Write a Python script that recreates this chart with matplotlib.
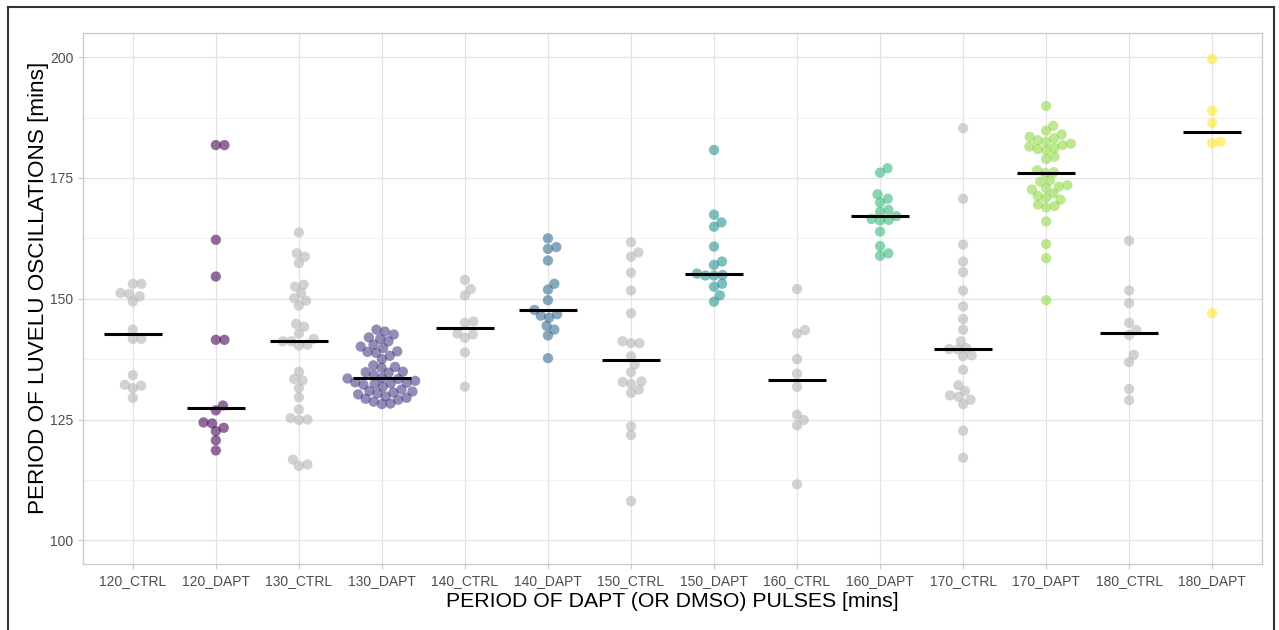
import numpy as np
import matplotlib
matplotlib.use("Agg")
import matplotlib.pyplot as plt
from matplotlib.lines import Line2D

plt.rcParams["font.family"] = ["Liberation Sans", "DejaVu Sans"]

# -----------------------------
# Data: period of LuVeLu oscillations [mins] per condition
# -----------------------------
groups = ["120_CTRL", "120_DAPT", "130_CTRL", "130_DAPT", "140_CTRL", "140_DAPT",
          "150_CTRL", "150_DAPT", "160_CTRL", "160_DAPT", "170_CTRL", "170_DAPT",
          "180_CTRL", "180_DAPT"]

ctrl_120 = [153.1, 153.1, 151.2, 150.5, 151.0, 149.4, 143.6, 141.7, 141.7,
            134.2, 132.2, 131.5, 132.0, 129.5]
dapt_120 = [181.8, 181.8, 162.2, 154.6, 141.5, 141.5, 127.9, 126.9, 124.4,
            124.2, 123.3, 122.6, 120.7, 118.6]

ctrl_130 = [163.7, 158.7, 159.4, 157.4, 152.9, 152.5, 151.2, 149.6, 150.1,
            148.6, 144.8, 144.2, 142.8, 141.7, 141.2, 141.2, 140.5, 140.3,
            134.9, 133.1, 133.4, 131.5, 129.6, 127.1, 124.9, 125.3, 125.0,
            115.7, 115.4, 116.7]
dapt_130 = [143.6, 143.2, 142.6, 142.0, 141.7, 141.2, 140.5, 140.1, 139.8,
            139.1, 139.0, 138.8, 138.2, 137.5, 136.2, 135.9, 135.7, 134.9,
            134.8, 134.7, 134.2, 133.4, 133.6, 133.5, 133.0, 132.7, 132.6,
            132.5, 132.4, 132.2, 131.8, 131.2, 130.9, 130.8, 130.6, 130.4,
            130.2, 129.8, 129.5, 129.3, 129.1, 128.7, 128.3, 128.2]

ctrl_140 = [153.9, 152.0, 150.7, 145.3, 145.0, 142.8, 142.6, 141.9, 138.9, 131.8]
dapt_140 = [162.5, 160.7, 160.3, 157.9, 153.1, 151.9, 149.7, 147.7, 146.8,
            146.5, 146.1, 144.4, 143.6, 142.4, 137.7]

ctrl_150 = [161.7, 159.6, 158.7, 155.4, 151.7, 147.0, 140.8, 141.2, 140.8,
            138.1, 136.4, 134.8, 132.9, 132.4, 132.8, 130.5, 131.2, 123.6,
            121.8, 108.1]
dapt_150 = [180.8, 167.4, 165.8, 164.9, 160.8, 157.7, 157.0, 154.9, 155.2,
            154.8, 154.8, 153.1, 152.5, 150.7, 149.4]

ctrl_160 = [152.0, 142.8, 143.5, 137.5, 134.5, 131.8, 126.0, 124.9, 123.8, 111.6]
dapt_160 = [177.0, 176.1, 171.6, 170.7, 169.9, 168.4, 168.0, 167.1, 166.3,
            166.2, 166.5, 163.9, 160.9, 159.4, 158.9]

ctrl_170 = [185.3, 170.7, 161.2, 157.7, 155.5, 151.7, 148.4, 145.8, 143.6,
            141.2, 139.5, 139.8, 139.6, 138.1, 138.3, 135.3, 132.1, 130.9,
            129.1, 130.0, 129.7, 128.2, 122.7, 117.1]
dapt_170 = [189.9, 185.8, 184.8, 184.0, 183.5, 183.2, 182.8, 182.5, 182.1,
            181.8, 181.5, 181.2, 181.0, 180.7, 179.4, 178.9, 176.6, 176.0,
            176.2, 174.5, 174.2, 173.5, 173.2, 172.9, 172.6, 171.8, 171.3,
            170.9, 170.5, 169.5, 169.2, 168.9, 166.0, 161.3, 158.4, 149.7]

ctrl_180 = [162.0, 151.7, 149.1, 145.0, 143.5, 142.5, 138.4, 136.9, 131.3, 129.0]
dapt_180 = [199.6, 188.9, 186.4, 182.2, 182.5, 147.0]

values = [ctrl_120, dapt_120, ctrl_130, dapt_130, ctrl_140, dapt_140,
          ctrl_150, dapt_150, ctrl_160, dapt_160, ctrl_170, dapt_170,
          ctrl_180, dapt_180]

# viridis(7) for the DAPT conditions, grey for controls
dapt_colors = ["#440154", "#443A83", "#31688E", "#21908C", "#35B779",
               "#8FD744", "#FDE725"]
ctrl_color = "#b3b3b3"

y_ticks = [100, 125, 150, 175, 200]


# -----------------------------
# Helpers
# -----------------------------
def swarm_offsets(ypix, d):
    """Place points along x (pixels) so that no two overlap."""
    order = np.argsort(ypix, kind="stable")
    xs = np.zeros(len(ypix))
    placed = []
    for i in order:
        y = ypix[i]
        near = [(px, py) for px, py in placed if abs(py - y) < d]
        cands = [0.0]
        for px, py in near:
            dx = np.sqrt(d * d - (py - y) ** 2)
            cands += [px + dx, px - dx]
        cands.sort(key=abs)
        for c in cands:
            if all((c - px) ** 2 + (y - py) ** 2 >= d * d - 1e-6 for px, py in near):
                xs[i] = c
                break
        placed.append((xs[i], y))
    return xs


# -----------------------------
# Plot
# -----------------------------
fig = plt.figure(figsize=(12.79, 6.30), dpi=100)
ax = fig.add_axes([83 / 1279, 1 - 564 / 630, (1262 - 83) / 1279, (564 - 33) / 630])

ax.set_xlim(0.4, len(groups) + 0.6)
ax.set_ylim(95.1, 205.0)

# pixel scale of the axes, used for the swarm layout
p0 = ax.transData.transform((0, 0))
p1 = ax.transData.transform((1, 1))
px_per_x = p1[0] - p0[0]
px_per_y = p1[1] - p0[1]

spacing = 8.6
dapt_i = 0
for i, (name, vals) in enumerate(zip(groups, values)):
    pos = i + 1
    vals = np.asarray(vals, dtype=float)
    if name.endswith("DAPT"):
        col = dapt_colors[dapt_i]
        dapt_i += 1
    else:
        col = ctrl_color
    off = swarm_offsets(vals * px_per_y, spacing) / px_per_x
    ax.scatter(pos + off, vals, s=55, color=col, alpha=0.58,
               edgecolors="none", zorder=3)
    med = np.median(vals)
    ax.plot([pos - 0.35, pos + 0.35], [med, med], color="black",
            lw=2.2, solid_capstyle="butt", zorder=4)

# grid + frame
ax.set_xticks(range(1, len(groups) + 1))
ax.set_xticklabels(groups)
ax.set_yticks(y_ticks)
ax.set_yticks([112.5, 137.5, 162.5, 187.5], minor=True)
ax.grid(True, which="major", color="#e3e3e3", lw=0.9)
ax.grid(True, which="minor", axis="y", color="#f0f0f0", lw=0.6)
ax.set_axisbelow(True)
for sp in ax.spines.values():
    sp.set_color("#c8c8c8")
    sp.set_linewidth(0.9)

ax.tick_params(axis="both", which="major", labelsize=10, labelcolor="#4d4d4d",
               color="#c8c8c8", length=3.5, width=0.8)
ax.tick_params(axis="y", which="minor", length=0)

ax.set_xlabel("PERIOD OF DAPT (OR DMSO) PULSES [mins]", fontsize=15.3, labelpad=3)
ax.set_ylabel("PERIOD OF LUVELU OSCILLATIONS [mins]", fontsize=16.2,
              va="center")
ax.yaxis.set_label_coords(-0.038, 0.52)

# outer border
for xy in (([8, 8], [0, 623]), ([8, 1274], [623, 623]), ([1274, 1274], [623, 0])):
    fig.add_artist(Line2D(np.array(xy[0]) / 1279, np.array(xy[1]) / 630,
                          color="#333333", lw=1.5))

fig.savefig("out.png", dpi=100)
